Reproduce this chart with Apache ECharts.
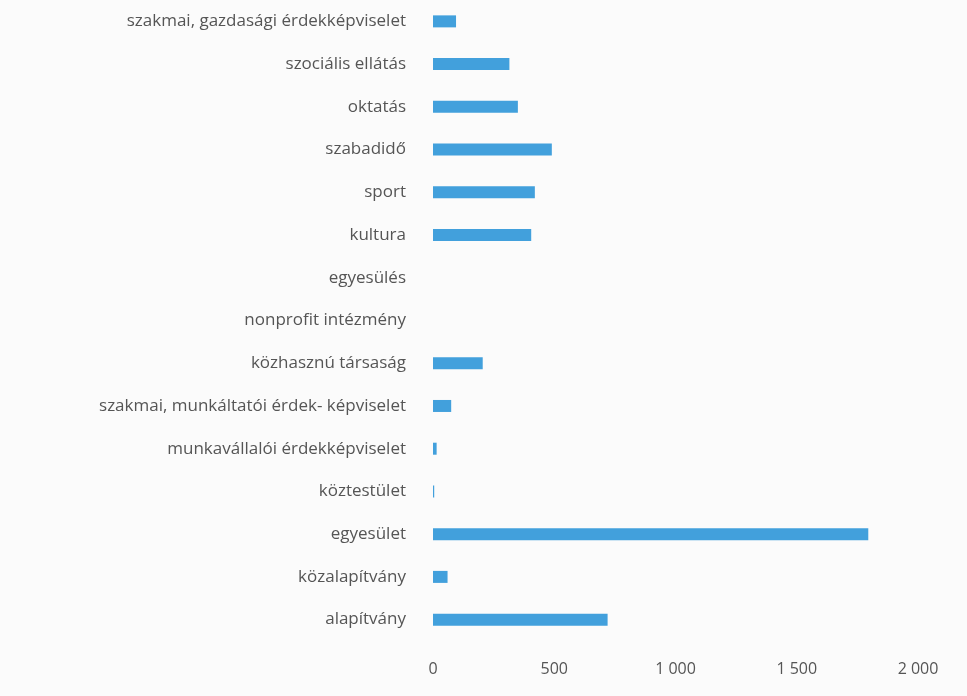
<!DOCTYPE html>
<html>
<head>
<meta charset="utf-8">
<script src="https://cdn.jsdelivr.net/npm/echarts@6/dist/echarts.min.js"></script>
<style>
    html, body { margin: 0; padding: 0; background: #fbfbfb; }
    #app-chart { width: 967px; height: 696px; }
</style>
</head>
<body>
<div id="app-chart"></div>
<script>
//======================================================================================================================
// Szervezetek száma típus és tevékenység szerint
//======================================================================================================================

    var categories = [
        'szakmai, gazdasági érdekképviselet',
        'szociális ellátás',
        'oktatás',
        'szabadidő',
        'sport',
        'kultura',
        'egyesülés',
        'nonprofit intézmény',
        'közhasznú társaság',
        'szakmai, munkáltatói érdek- képviselet',
        'munkavállalói érdekképviselet',
        'köztestület',
        'egyesület',
        'közalapítvány',
        'alapítvány'
    ];
    var values = [95, 315, 350, 490, 420, 405, 0, 0, 205, 75, 15, 5, 1795, 60, 720];
    var xTicks = [0, 500, 1000, 1500, 2000];

    var font = '"Open Sans", Lato, sans-serif';

    echarts.init(document.getElementById('app-chart')).setOption({
        backgroundColor: '#fbfbfb',
        animation: false,
        grid: { left: 433, right: 49, top: -1, bottom: 55 },
        xAxis: {
            type: 'value',
            min: xTicks[0],
            max: xTicks[xTicks.length - 1],
            interval: xTicks[1] - xTicks[0],
            axisLine: { show: false },
            axisTick: { show: false },
            splitLine: { show: false },
            axisLabel: {
                margin: 20,
                color: '#555',
                fontFamily: font,
                fontSize: 16,
                formatter: function(v) {
                    return String(v).replace(/\B(?=(\d{3})+(?!\d))/g, ' ');
                }
            }
        },
        yAxis: {
            type: 'category',
            inverse: true,
            data: categories,
            axisLine: { show: false },
            axisTick: { show: false },
            axisLabel: {
                margin: 27,
                color: '#555',
                fontFamily: font,
                fontSize: 17
            }
        },
        series: [{
            type: 'bar',
            data: values,
            barWidth: 12,
            itemStyle: {
                color: '#42a0dc',
                borderColor: '#2f88c4',
                borderWidth: 0
            }
        }]
    });
</script>
</body>
</html>
